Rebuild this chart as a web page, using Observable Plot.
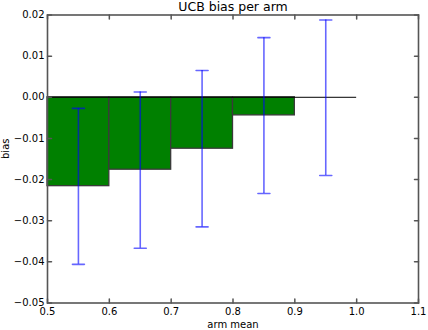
<!DOCTYPE html>
<html>
<head>
<meta charset="utf-8">
<script src="https://cdn.jsdelivr.net/npm/d3@7"></script>
<script src="https://cdn.jsdelivr.net/npm/@observablehq/plot@0.6"></script>
<style>
  html, body { margin: 0; padding: 0; background: white; }
</style>
</head>
<body>
<div id="chart"></div>
<script>
// ---- data ----
const armMeans = [0.55, 0.65, 0.75, 0.85, 0.95];
const barWidth = 0.1;
const bias = [-0.0216, -0.0176, -0.0125, -0.0044, 0.0];
const errLow = [-0.0406, -0.0367, -0.0315, -0.0234, -0.0190];
const errHigh = [-0.0027, 0.0013, 0.0065, 0.0145, 0.0188];
const xTicks = [0.5, 0.6, 0.7, 0.8, 0.9, 1.0, 1.1];
const yTicks = [-0.05, -0.04, -0.03, -0.02, -0.01, 0.0, 0.01, 0.02];
const xDomain = [0.5, 1.1];
const yDomain = [-0.05, 0.02];
const title = "UCB bias per arm";
const xLabel = "arm mean";
const yLabel = "bias";

const rows = armMeans.map((m, i) => ({
  x: m, x1: m - barWidth / 2, x2: m + barWidth / 2,
  bias: bias[i], lo: errLow[i], hi: errHigh[i]
}));

const tickShape = { draw(ctx, l) { ctx.moveTo(0, 0); ctx.lineTo(0, -l); } };
const capShape = { draw(ctx, l) { ctx.moveTo(-l / 2, 0); ctx.lineTo(l / 2, 0); } };
const tickLen = 4;
const tickColor = "#555";

const chart = Plot.plot({
  width: 428,
  height: 330,
  marginLeft: 47,
  marginRight: 10,
  marginTop: 14.5,
  marginBottom: 27.5,
  x: { domain: xDomain },
  y: { domain: yDomain },
  style: { fontFamily: "'DejaVu Sans', sans-serif", fontSize: "10px", background: "white", color: "black" },
  marks: [
    Plot.rect(rows, { x1: "x1", x2: "x2", y1: 0, y2: "bias", fill: "#008000", stroke: "#3a3a3a", strokeWidth: 1.3 }),
    Plot.ruleY([0], { x1: xDomain[0], x2: rows[rows.length - 1].x2, stroke: "black", strokeWidth: 1 }),
    Plot.ruleX(rows, { x: "x", y1: "lo", y2: "hi", stroke: "blue", strokeOpacity: 0.6, strokeWidth: 1.6 }),
    Plot.vector(rows, { x: "x", y: "hi", length: 12, anchor: "start", shape: capShape, stroke: "blue", strokeOpacity: 0.6, strokeWidth: 1.6 }),
    Plot.vector(rows, { x: "x", y: "lo", length: 12, anchor: "start", shape: capShape, stroke: "blue", strokeOpacity: 0.6, strokeWidth: 1.6 }),
    // inward ticks
    Plot.vector(xTicks, { x: d => d, y: yDomain[0], length: tickLen, rotate: 0, anchor: "start", shape: tickShape, stroke: tickColor }),
    Plot.vector(xTicks, { x: d => d, y: yDomain[1], length: tickLen, rotate: 180, anchor: "start", shape: tickShape, stroke: tickColor }),
    Plot.vector(yTicks, { y: d => d, x: xDomain[0], length: tickLen, rotate: 90, anchor: "start", shape: tickShape, stroke: tickColor }),
    Plot.vector(yTicks, { y: d => d, x: xDomain[1], length: tickLen, rotate: -90, anchor: "start", shape: tickShape, stroke: tickColor }),
    Plot.frame({ stroke: "#555", strokeWidth: 1.6 }),
    Plot.axisX(xTicks, { tickSize: 0, tickPadding: 5, tickFormat: d3.format(".1f"), label: null, fontSize: 10 }),
    Plot.axisY(yTicks, { tickSize: 0, tickPadding: 3, tickFormat: d3.format(".2f"), label: null, fontSize: 10 }),
    Plot.text([title], { frameAnchor: "top", dy: -4.5, lineAnchor: "bottom", fontSize: 12.5, text: d => d }),
    Plot.text([xLabel], { frameAnchor: "bottom", dy: 24.5, lineAnchor: "bottom", fontSize: 10, text: d => d }),
    Plot.text([yLabel], { frameAnchor: "left", dx: -38.5, rotate: -90, lineAnchor: "bottom", fontSize: 10, text: d => d })
  ]
});
document.getElementById("chart").appendChild(chart);
</script>
</body>
</html>
